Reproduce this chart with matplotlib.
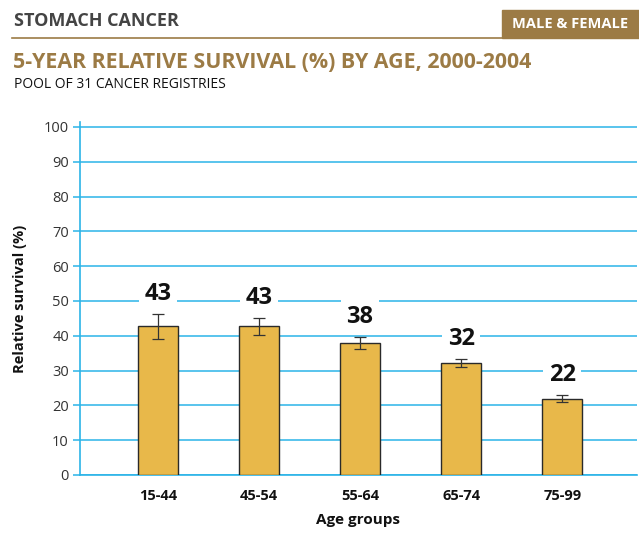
import matplotlib
matplotlib.use("Agg")
import matplotlib.pyplot as plt
import numpy as np

categories = ["15-44", "45-54", "55-64", "65-74", "75-99"]
values = [42.8, 42.8, 37.9, 32.2, 21.8]
err_low = [39.1, 40.2, 36.2, 31.0, 20.9]
err_high = [46.4, 45.2, 39.6, 33.3, 22.9]
labels = ["43", "43", "38", "32", "22"]
yticks = [0, 10, 20, 30, 40, 50, 60, 70, 80, 90, 100]

TAN = "#9C7B45"
BLUE = "#2BB4E8"
BAR = "#E8B84A"
FONT = "Open Sans"

fig = plt.figure(figsize=(6.39, 5.51), dpi=100)
W, H = 639, 551

def fx(px):
    return px / W

def fy(py):
    return 1 - py / H

# header
fig.text(fx(14), fy(21), "STOMACH CANCER", fontsize=13, fontweight="bold",
         color="#444444", family=FONT, va="center", ha="left")
fig.add_artist(plt.Line2D([fx(12), fx(502)], [fy(37.5), fy(37.5)], color=TAN, lw=1.2))
fig.add_artist(plt.Rectangle((fx(502), fy(37.5)), fx(639 - 502), 27.5 / H,
                             color=TAN, transform=fig.transFigure))
fig.text(fx(570), fy(24), "MALE & FEMALE", fontsize=10.5, fontweight="bold",
         color="white", family=FONT, va="center", ha="center")
fig.text(fx(13), fy(62), "5-YEAR RELATIVE SURVIVAL (%) BY AGE, 2000-2004",
         fontsize=15.4, fontweight="bold", color=TAN, family=FONT, va="center", ha="left")
fig.text(fx(14), fy(85), "POOL OF 31 CANCER REGISTRIES", fontsize=10,
         color="#111111", family=FONT, va="center", ha="left")

ax = fig.add_axes([fx(80), fy(475), fx(637 - 80), (475 - 122) / H])
x = np.arange(len(categories))
ax.set_ylim(0, (475 - 122) / 3.48)
ax.set_xlim(-0.77, 4.74)
ax.set_yticks(yticks)
ax.set_yticklabels([str(t) for t in yticks], family=FONT, fontsize=10.5, color="#333333")
ax.yaxis.grid(True, color=BLUE, lw=1.1)
ax.set_axisbelow(True)
for s in ["top", "right"]:
    ax.spines[s].set_visible(False)
ax.spines["left"].set_color(BLUE)
ax.spines["bottom"].set_color(BLUE)
ax.spines["left"].set_linewidth(1.2)
ax.spines["bottom"].set_linewidth(1.2)
ax.tick_params(axis="y", colors=BLUE, length=5, width=1.1, labelcolor="#333333", pad=3)
ax.tick_params(axis="x", length=0, pad=10)

vals = np.array(values)
yerr = np.array([vals - np.array(err_low), np.array(err_high) - vals])
ax.bar(x, vals, width=0.395, color=BAR, edgecolor="#2a2a2a", linewidth=1.0, zorder=3)
ax.errorbar(x, vals, yerr=yerr, fmt="none", ecolor="#333333", elinewidth=0.9,
            capsize=4, capthick=0.9, zorder=4)
for xi, hi, lab in zip(x, err_high, labels):
    ax.text(xi, hi + 5.7, lab, ha="center", va="center", fontsize=17, fontweight="bold",
            family=FONT, color="#111111", zorder=5,
            bbox=dict(boxstyle="square,pad=0.22", fc="white", ec="none"))

ax.set_xticks(x)
ax.set_xticklabels(categories, family=FONT, fontsize=10.5, fontweight="bold", color="#111111")
ax.set_xlabel("Age groups", family=FONT, fontsize=11, fontweight="bold", color="#111111", labelpad=7)
ax.set_ylabel("Relative survival (%)", family=FONT, fontsize=10.5, fontweight="bold",
              color="#111111", labelpad=12)

fig.savefig("out.png", dpi=100)
